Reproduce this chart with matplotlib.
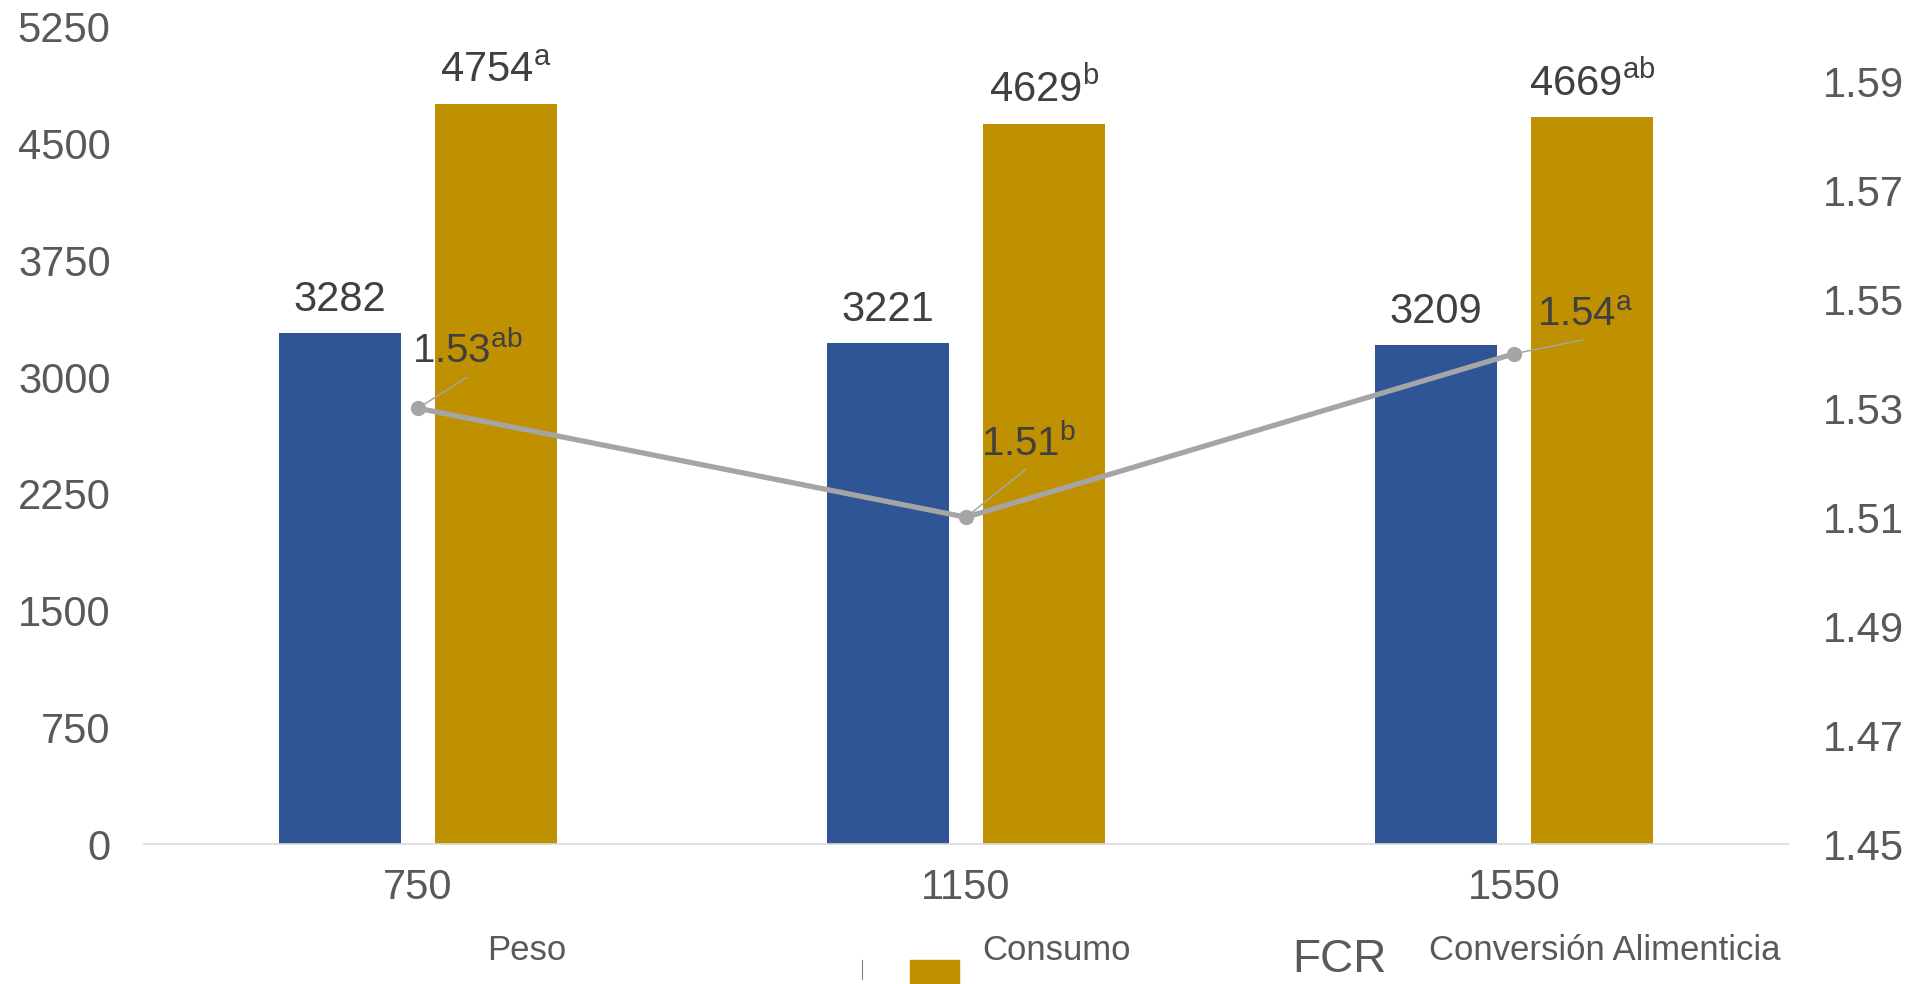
import matplotlib

matplotlib.use("Agg")
import matplotlib.pyplot as plt
import numpy as np
from matplotlib.patches import Rectangle

# densidad de siembra y resultados por grupo
categorias = ["750", "1150", "1550"]
peso = [3282, 3221, 3209]
consumo = [4754, 4629, 4669]
consumo_letras = ["a", "b", "ab"]
fcr = [1.53, 1.51, 1.54]
fcr_letras = ["ab", "b", "a"]

AZUL = "#2F5597"
DORADO = "#BF9000"
GRIS = "#A5A5A5"
TEXTO = "#404040"
EJES = "#595959"

plt.rcParams["font.family"] = ["Liberation Sans", "DejaVu Sans"]
plt.rcParams["mathtext.fontset"] = "custom"
plt.rcParams["mathtext.rm"] = "Liberation Sans"

W, H = 1918, 984
fig = plt.figure(figsize=(W / 100, H / 100), dpi=100)
ax = fig.add_axes([144 / W, 1 - 844 / H, 1644 / W, 817 / H])
ax2 = ax.twinx()

x = np.arange(len(categorias))
ancho = 0.223
desp = 0.142

ax.bar(x - desp, peso, ancho, color=AZUL, zorder=2)
ax.bar(x + desp, consumo, ancho, color=DORADO, zorder=2)

for xi, v in zip(x - desp, peso):
    ax.annotate(f"{v}", (xi, v), xytext=(0, 22), textcoords="offset pixels",
                ha="center", va="baseline", fontsize=30, color=TEXTO)
for xi, v, l in zip(x + desp, consumo, consumo_letras):
    ax.annotate(f"{v}$^{{\\mathrm{{{l}}}}}$", (xi, v), xytext=(0, 22),
                textcoords="offset pixels", ha="center", va="baseline",
                fontsize=30, color=TEXTO)

ax.set_xlim(-0.5, 2.5)
ax.set_ylim(0, 5250)
ax.set_yticks(np.arange(0, 5251, 750))
ax.set_xticks(x)
ax.set_xticklabels(categorias)
ax.tick_params(axis="y", length=0, pad=24, labelsize=30, labelcolor=EJES)
ax.tick_params(axis="x", length=0, pad=17, labelsize=30, labelcolor=EJES)
for s in ["top", "left", "right"]:
    ax.spines[s].set_visible(False)
ax.spines["bottom"].set_color("#D9D9D9")
ax.spines["bottom"].set_linewidth(1.2)

# conversión alimenticia en el eje secundario
ax2.plot(x, fcr, color=GRIS, lw=3.8, marker="o", ms=10, zorder=3)
ax2.set_ylim(1.45, 1.60)
ax2.set_yticks(np.arange(1.45, 1.595, 0.02))
ax2.set_yticklabels([f"{t:.2f}" for t in np.arange(1.45, 1.595, 0.02)])
ax2.tick_params(axis="y", length=0, pad=25, labelsize=30, labelcolor=EJES)
for s in ["top", "left", "right", "bottom"]:
    ax2.spines[s].set_visible(False)

guia = [(49, 31), (60, 48), (69, 14)]
texto_pos = [(-6, 45), (15, 61), (23, 28)]
for xi, v, l, g, t in zip(x, fcr, fcr_letras, guia, texto_pos):
    ax2.annotate("", (xi, v), xytext=g, textcoords="offset pixels",
                 arrowprops=dict(arrowstyle="-", color=GRIS, lw=1.1,
                                 shrinkA=0, shrinkB=0))
    ax2.annotate(f"{v:.2f}$^{{\\mathrm{{{l}}}}}$", (xi, v), xytext=t,
                 textcoords="offset pixels", ha="left", va="baseline",
                 fontsize=29, color=TEXTO)

# leyenda inferior
fig.text(527 / W, 1 - 950 / H, "Peso", fontsize=25, color=EJES,
         ha="center", va="center")
fig.add_artist(Rectangle((910 / W, 1 - 984 / H), 49 / W, 24 / H,
                         transform=fig.transFigure, color=DORADO))
fig.add_artist(plt.Line2D([862 / W, 862 / W], [1 - 979 / H, 1 - 960 / H],
                          transform=fig.transFigure, color="#808080", lw=0.8))
fig.text(982 / W, 1 - 950 / H, "Consumo", fontsize=25, color=EJES,
         ha="left", va="center")
fig.text(1339 / W, 1 - 960 / H, "FCR", fontsize=33, color=EJES,
         ha="center", va="center")
fig.text(1429 / W, 1 - 950 / H, "Conversión Alimenticia", fontsize=25,
         color=EJES, ha="left", va="center")

fig.savefig("out.png", dpi=100, facecolor="white")
